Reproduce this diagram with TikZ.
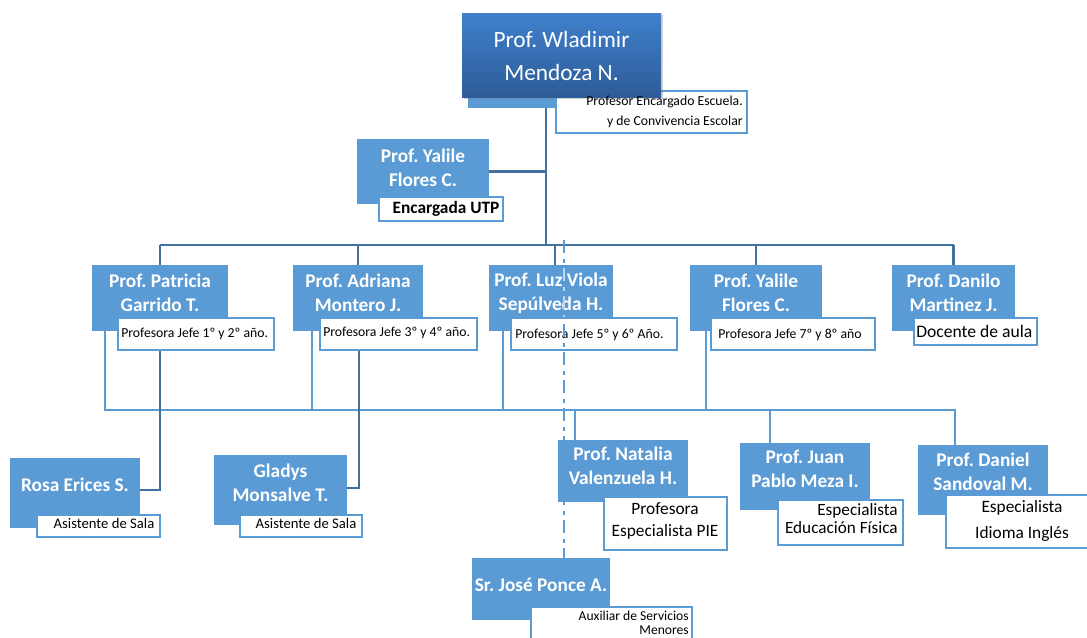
\documentclass[tikz,border=0pt]{standalone}
\usepackage{fontspec}
\setmainfont{Carlito}
\frenchspacing
\usetikzlibrary{fit,shadows}
\definecolor{acc}{HTML}{5B9BD5}
\definecolor{dk}{HTML}{41719C}
\definecolor{topA}{HTML}{3F80CC}
\definecolor{topB}{HTML}{2D5C98}
\definecolor{lite}{HTML}{BDD7EE}
\tikzset{
  pbox/.style={inner sep=0pt, fill=acc, draw=none},
  sbox/.style={inner sep=0pt, fill=white, draw=acc, line width=2pt},
  nametxt/.style={text=white, align=center, inner sep=0pt, font=\fontsize{14.5}{18}\selectfont\bfseries},
  stxt/.style={text=black, inner sep=0pt},
  upline/.style={draw=dk, line width=2.2pt},
  loline/.style={draw=acc, line width=2.2pt},
  ddline/.style={line width=2.2pt, dash pattern=on 10pt off 4pt on 3pt off 4pt}
}
\newcommand{\pers}[7]{%
  \node[pbox, fit={(#2,#3) (#4,#5)}] (#1) {};
  \node[nametxt] (#1T) at ({(#2+#4)/2},#7) {#6};}
\newcommand{\subb}[5]{\node[sbox, fit={(#2,#3) (#4,#5)}] (#1) {};}
\begin{document}
\begin{tikzpicture}[x=0.75pt,y=-0.75pt]
\useasboundingbox (0,0) rectangle (1087,637);
\fill[white] (0,0) rectangle (1087,637);

% top
\node[pbox, fit={(468,20) (558,108)}] (topbase) {};
\subb{topS}{556}{91}{747}{133}
\node[fit={(462,13) (661,97)}, inner sep=0pt, top color=topA, bottom color=topB,
      drop shadow={opacity=0.35,shadow xshift=1.2pt,shadow yshift=-1.5pt}] (top) {};
\node[text=white, align=center, inner sep=0pt, font=\fontsize{17.5}{24.5}\selectfont] (topT) at (561.5,56) {Prof. Wladimir\\Mendoza N.};
\node[stxt, align=right, anchor=east, font=\fontsize{10.3}{15}\selectfont] (topST) at (743,112) {Profesor Encargado Escuela.\\y de Convivencia Escolar};

% UTP
\pers{utp}{357}{139}{489}{204}{Prof. Yalile\\Flores C.}{168}
\subb{utpS}{379}{197}{503}{221}
\node[stxt, font=\fontsize{13}{14}\selectfont\bfseries] (utpST) at (446,209) {Encargada UTP};

% row 2
\pers{pat}{92}{265}{228}{331}{Prof. Patricia\\Garrido T.}{293}
\pers{adr}{293}{265}{423}{331}{Prof. Adriana\\Montero J.}{293}
\pers{luz}{489}{265}{613}{331}{Prof. Luz Viola\\Sepúlveda H.}{293}
\pers{yal}{690}{265}{822}{331}{Prof. Yalile\\Flores C.}{293}
\pers{dan}{892}{265}{1015}{331}{Prof. Danilo\\Martinez J.}{293}
\subb{patS}{118}{318}{274}{350}
\subb{adrS}{320}{318}{477}{350}
\subb{luzS}{511}{318}{677}{350}
\subb{yalS}{711}{318}{875}{350}
\subb{danS}{914}{318}{1037}{345}
\node[stxt, anchor=west, font=\fontsize{10.3}{11}\selectfont] (patST) at (121,334) {Profesora Jefe 1º y 2º año.};
\node[stxt, anchor=west, font=\fontsize{10.3}{11}\selectfont] (adrST) at (323,333) {Profesora Jefe 3º y 4º año.};
\node[stxt, anchor=west, font=\fontsize{10.3}{11}\selectfont] (luzST) at (515,335) {Profesora Jefe 5º y 6º Año.};
\node[stxt, anchor=west, font=\fontsize{10.3}{11}\selectfont] (yalST) at (718,335) {Profesora Jefe 7º y 8º año};
\node[stxt, anchor=west, font=\fontsize{13.2}{14}\selectfont] (danST) at (916,331) {Docente de aula};

% row 3
\pers{rosa}{10}{458}{140}{528}{Rosa Erices S.}{485}
\pers{gla}{214}{455}{347}{525}{Gladys\\Monsalve T.}{483}
\pers{nat}{558}{440}{688}{502}{Prof. Natalia\\Valenzuela H.}{466}
\pers{jua}{740}{443}{870}{510}{Prof. Juan\\Pablo Meza I.}{469}
\pers{dni}{918}{445}{1048}{515}{Prof. Daniel\\Sandoval M.}{472}
\pers{jose}{472}{558}{610}{620}{Sr. José Ponce A.}{585}
\subb{rosaS}{37}{515}{160}{537}
\subb{glaS}{240}{515}{362}{537}
\subb{natS}{604}{497}{727}{550}
\subb{juaS}{778}{500}{903}{545}
\subb{dniS}{946}{495}{1092}{548}
\subb{joseS}{531}{607}{692}{645}
\node[stxt, font=\fontsize{11}{11}\selectfont] (rosaST) at (104,523) {Asistente de Sala};
\node[stxt, font=\fontsize{11}{11}\selectfont] (glaST) at (306,523) {Asistente de Sala};
\node[stxt, align=center, font=\fontsize{13}{17}\selectfont] (natST) at (665,521) {Profesora\\Especialista PIE};
\node[stxt, align=right, anchor=east, font=\fontsize{12.9}{13.5}\selectfont] (juaST) at (898,519) {Especialista\\Educación Física};
\node[stxt, align=center, font=\fontsize{13}{19.5}\selectfont] (dniST) at (1022,521) {Especialista\\Idioma Inglés};
\node[stxt, align=right, anchor=east, font=\fontsize{10.2}{10.5}\selectfont] (joseST) at (689,623) {Auxiliar de Servicios\\Menores};

% upper connectors
\coordinate (tr) at (546,245);
\draw[upline] (tr |- topbase.south) -- (tr);
\draw[upline] (utp.east) -- (utp.east -| tr);
\draw[upline] (pat.north |- tr) -- (dan.north |- tr);
\foreach \n in {pat,adr,yal,dan} \draw[upline] (\n.north |- tr) -- (\n.north);
\coordinate (lz) at (555,245);
\draw[upline] (lz) -- (lz |- luz.north);

% lower connectors
\coordinate (b2) at (105,410);
\coordinate (a2) at (312,410);
\coordinate (l2) at (503,410);
\coordinate (y2) at (706,410);
\coordinate (n3) at (575,410);
\coordinate (j3) at (770,410);
\coordinate (d3) at (955,410);
\draw[loline] (b2 |- pat.south) -- (b2) -- (d3) -- (d3 |- dni.north);
\draw[loline] (a2 |- adr.south) -- (a2);
\draw[loline] (l2 |- luz.south) -- (l2);
\draw[loline] (y2 |- yal.south) -- (y2);
\draw[loline] (n3) -- (n3 |- nat.north);
\draw[loline] (j3) -- (j3 |- jua.north);

% assistants
\coordinate (pr) at (160,490);
\coordinate (ag) at (359,488);
\draw[upline] (patS.south -| pr) -- (pr) -- (rosa.east |- pr);
\draw[upline] (adrS.south -| ag) -- (ag) -- (gla.east |- ag);

% dash-dot line
\coordinate (dd) at (564,240);
\draw[ddline, draw=acc] (dd) -- (dd |- jose.north);
\begin{scope}
  \clip (luz.north west) rectangle (luzS.north -| luz.east);
  \draw[ddline, draw=lite] (dd) -- (dd |- jose.north);
\end{scope}
\end{tikzpicture}
\end{document}
